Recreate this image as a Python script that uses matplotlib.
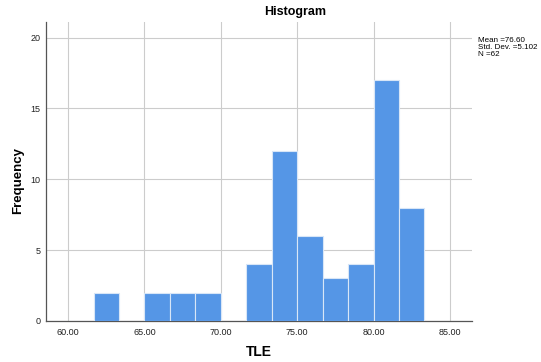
import matplotlib
matplotlib.use("Agg")
import matplotlib.pyplot as plt
import numpy as np

plt.rcParams['font.family'] = ['Liberation Sans', 'DejaVu Sans']

bin_edges = [60.0, 61.667, 63.333, 65.0, 66.667, 68.333, 70.0, 71.667,
             73.333, 75.0, 76.667, 78.333, 80.0, 81.667, 83.333]
counts = [0, 2, 0, 2, 2, 2, 0, 4, 12, 6, 3, 4, 17, 8]
xticks = [60, 65, 70, 75, 80, 85]
yticks = [0, 5, 10, 15, 20]
stats_text = "Mean =76.60\nStd. Dev. =5.102\nN =62"

fig = plt.figure(figsize=(5.41, 3.62), dpi=100)
ax = fig.add_axes([46/541, 1-321/362, (472-46)/541, (321-22)/362])

lefts = bin_edges[:-1]
widths = np.diff(bin_edges)
ax.bar(lefts, counts, width=widths, align='edge', color='#5596E6',
       edgecolor='#d8e6f7', linewidth=0.8, zorder=3)

ax.set_xlim(58.55, 86.45)
ax.set_ylim(0, 21.1)
ax.set_xticks(xticks)
ax.set_xticklabels([f"{v:.2f}" for v in xticks])
ax.set_yticks(yticks)
ax.grid(True, color='#cccccc', linewidth=0.8, zorder=0)
ax.set_axisbelow(True)
for s in ['top', 'right']:
    ax.spines[s].set_visible(False)
for s in ['left', 'bottom']:
    ax.spines[s].set_color('#555555')
    ax.spines[s].set_linewidth(0.9)
ax.tick_params(axis='x', length=0, labelsize=6.5, colors='#222222', pad=5)
ax.tick_params(axis='y', length=0, labelsize=6.5, colors='#222222', pad=4)

fig.text(259/541, 1-352/362, "TLE", ha='center', va='center',
         fontsize=10, fontweight='bold')
fig.text(18/541, 1-180/362, "Frequency", ha='center', va='center',
         rotation=90, fontsize=9.5, fontweight='bold')
fig.text(295/541, 1-12/362, "Histogram", ha='center', va='center',
         fontsize=9, fontweight='bold')
fig.text(478/541, 1-37/362, stats_text, ha='left', va='top',
         fontsize=5.8, linespacing=1.0)

fig.savefig("out.png", dpi=100)
